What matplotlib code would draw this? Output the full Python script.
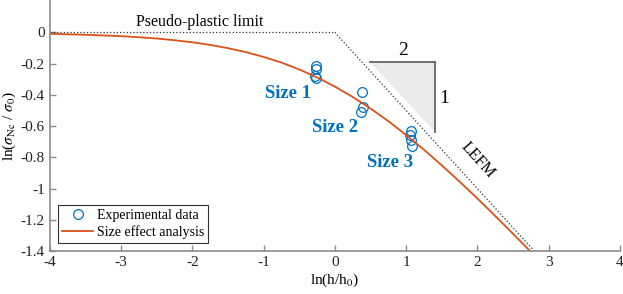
import matplotlib
matplotlib.use("Agg")
import matplotlib.pyplot as plt

plt.rcParams['font.family'] = ['Liberation Serif', 'DejaVu Serif']
plt.rcParams['mathtext.fontset'] = 'stix'

# experimental points
exp_x = [-0.27, -0.27, -0.28, -0.27,
         0.38, 0.39, 0.36,
         1.07, 1.06, 1.07, 1.08]
exp_y = [-0.215, -0.235, -0.28, -0.295,
         -0.38, -0.48, -0.51,
         -0.63, -0.655, -0.69, -0.725]

# size effect curve
fit_x = [-4, -3.5, -3, -2.75, -2.5, -2.25, -2, -1.75, -1.5, -1.25, -1,
         -0.75, -0.5, -0.25, 0, 0.25, 0.5, 0.75, 1, 1.25, 1.5, 1.75, 2,
         2.25, 2.5, 2.75]
fit_y = [-0.009, -0.015, -0.024, -0.031, -0.039, -0.050, -0.063, -0.080,
         -0.101, -0.126, -0.157, -0.193, -0.237, -0.288, -0.347, -0.413,
         -0.487, -0.568, -0.657, -0.751, -0.851, -0.955, -1.063, -1.175,
         -1.289, -1.405]

# asymptotes
plastic_x = [-4, 0]
plastic_y = [0, 0]
lefm_x = [0, 2.8]
lefm_y = [0, -1.4]

# slope triangle
tri_x = [0.5, 1.4, 1.4]
tri_y = [-0.19, -0.19, -0.64]

size_labels = ['Size 1', 'Size 2', 'Size 3']
size_pos = [(-0.66, -0.39), (0.0, -0.61), (0.77, -0.83)]

blue = '#0072BD'
orange = '#D95319'
axcol = '#8c8c8c'

fig = plt.figure(figsize=(6.23, 2.94), dpi=100)
ax = fig.add_axes([0.080, 0.146, 0.915, 0.85])

ax.plot(plastic_x, plastic_y, ':', color='#333333', lw=0.9)
ax.plot(lefm_x, lefm_y, ':', color='#333333', lw=0.9)

ax.fill(tri_x, tri_y, color='#ebebeb', lw=0)
ax.plot(tri_x[:2], tri_y[:2], color='#666666', lw=1.3)
ax.plot(tri_x[1:], tri_y[1:], color='#666666', lw=1.3)
ax.text(0.96, -0.17, '2', fontsize=14, ha='center', va='bottom')
ax.text(1.46, -0.42, '1', fontsize=14, ha='left', va='center')

ax.plot(exp_x, exp_y, 'o', mfc='none', mec=blue, ms=7, mew=0.9,
        label='Experimental data')
ax.plot(fit_x, fit_y, '-', color=orange, lw=1.3, label='Size effect analysis')

for lab, (px, py) in zip(size_labels, size_pos):
    ax.text(px, py, lab, color=blue, fontsize=13.5, fontweight='bold',
            ha='center', va='center')

ax.text(-1.9, 0.015, 'Pseudo-plastic limit', fontsize=11.5, ha='center', va='bottom')
ax.text(2.0, -0.82, 'LEFM', fontsize=11.5, rotation=-48,
        ha='center', va='center', rotation_mode='anchor')

ax.set_xlim(-4, 4)
ax.set_ylim(-1.4, 0.2)
ax.set_xticks(range(-4, 5))
ax.set_yticks([-1.4, -1.2, -1, -0.8, -0.6, -0.4, -0.2, 0])
ax.set_yticklabels(['-1.4', '-1.2', '-1', '-0.8', '-0.6', '-0.4', '-0.2', '0'])
ax.set_xticklabels([str(v) for v in range(-4, 5)])

ax.spines['top'].set_visible(False)
ax.spines['right'].set_visible(False)
for s in ['left', 'bottom']:
    ax.spines[s].set_color(axcol)
    ax.spines[s].set_linewidth(1.2)
ax.tick_params(direction='in', length=4, width=1, color=axcol,
               labelsize=11, labelcolor='#222222')

ax.set_xlabel(r'ln(h/h$_0$)', fontsize=11, labelpad=2)
ax.set_ylabel(r'ln($\sigma_{\rm Nc}$ / $\sigma_0$)', fontsize=11, labelpad=2)

leg = ax.legend(loc='lower left', fontsize=10, fancybox=False, framealpha=1,
                edgecolor='#333333', borderpad=0.3, handlelength=2.2,
                handletextpad=0.3, labelspacing=0.2, borderaxespad=0.6)
leg.get_frame().set_linewidth(0.8)

fig.savefig('out.png', dpi=100)
